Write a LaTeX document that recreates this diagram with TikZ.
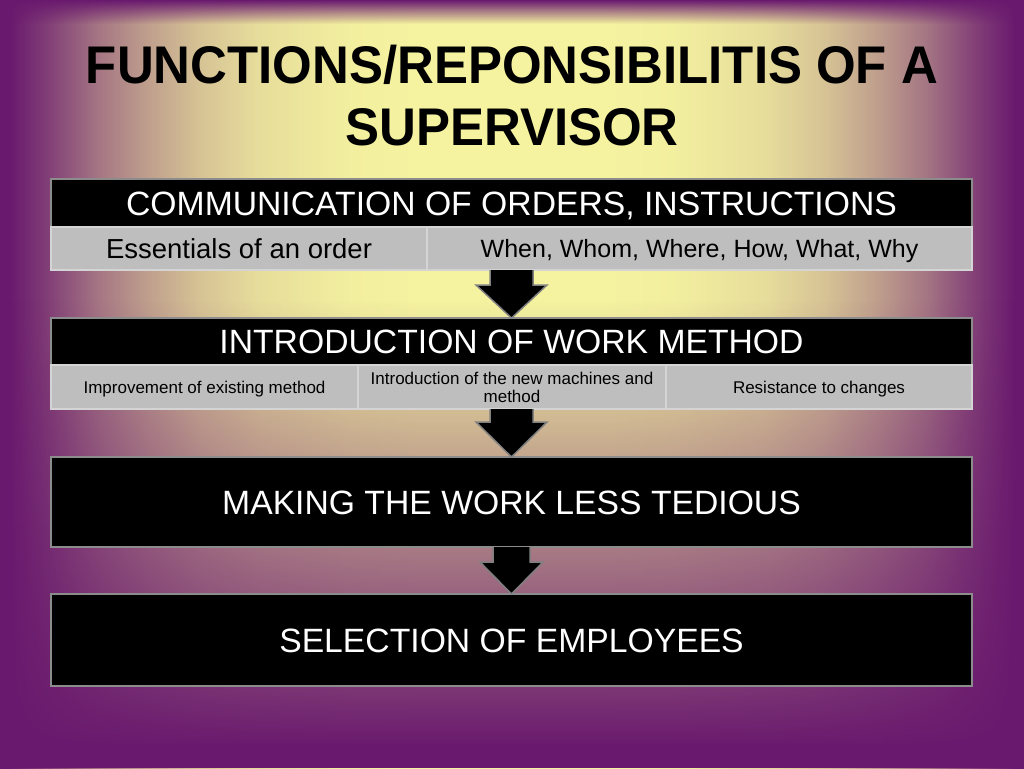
\documentclass[tikz,border=0pt]{standalone}
\usepackage{fontspec}
\setmainfont{Liberation Sans}
\usepackage{graphicx}
\usetikzlibrary{calc,fadings}
\definecolor{purp}{HTML}{6A1A6E}
\definecolor{yel}{HTML}{F5F3A0}
\definecolor{hdrline}{HTML}{8C8C8C}
\definecolor{cellgray}{HTML}{BEBEBE}
\definecolor{cellline}{HTML}{D4D4D4}
\definecolor{arrline}{HTML}{808080}
\colorlet{tA}{yel!13!purp}
\colorlet{tB}{yel!43!purp}
\colorlet{tC}{yel!62!purp}
\colorlet{tD}{yel!78!purp}
\colorlet{tE}{yel!90!purp}
\colorlet{tF}{yel!98!purp}
\pgfdeclarehorizontalshading{bgh}{100bp}{color(0bp)=(purp); color(25bp)=(purp); color(25.49bp)=(purp); color(26.95bp)=(tA); color(29.88bp)=(tB); color(32.32bp)=(tC); color(34.77bp)=(tD); color(37.70bp)=(tE); color(42.09bp)=(tF); color(45.51bp)=(yel); color(54.49bp)=(yel); color(57.91bp)=(tF); color(62.30bp)=(tE); color(65.23bp)=(tD); color(67.68bp)=(tC); color(70.12bp)=(tB); color(73.05bp)=(tA); color(74.51bp)=(purp); color(75bp)=(purp); color(100bp)=(purp)}
\tikzfading[name=fadebot, top color=transparent!100, bottom color=transparent!0]
\tikzfading[name=fadetop, top color=transparent!0, bottom color=transparent!100]
\tikzset{
  hdr/.style={fill=black, draw=hdrline, line width=2pt, text=white,
    font=\fontsize{33.7}{40}\selectfont, text height=24.1pt, text depth=0pt,
    inner sep=0pt, outer sep=0pt, minimum width=921pt},
  cell/.style={fill=cellgray, draw=cellline, line width=1.5pt, text=black,
    inner sep=0pt, outer sep=0pt},
  blockarrow/.style={fill=black, draw=arrline, line width=1.5pt, line join=miter},
  titletext/.style={anchor=base, inner sep=0pt, text=black,
    font=\fontsize{53}{53}\selectfont\bfseries}
}
\begin{document}
\begin{tikzpicture}[x=1pt,y=-1pt]
\useasboundingbox (0,0) rectangle (1024,768);
% background
\shade[shading=bgh] (0,0) rectangle (1024,768);
\fill[purp, path fading=fadebot] (0,300) rectangle (1024,746);
\fill[purp] (0,745) rectangle (1024,768);
\fill[purp, path fading=fadetop] (0,0) rectangle (1024,24);
% title
\node[titletext] (t1) at (512,83) {\resizebox{852pt}{\height}{FUNCTIONS/REPONSIBILITIS OF A}};
\node[titletext] (t2) at (512,145) {\scalebox{0.962}[1]{SUPERVISOR}};
% block 1
\node[hdr, minimum height=48pt] (h1) at (511.5,203) {COMMUNICATION OF ORDERS, INSTRUCTIONS};
\node[cell, minimum width=376pt, minimum height=43pt, font=\fontsize{27.5}{33}\selectfont,
  text height=19.7pt, text depth=0pt] (r1a) at (239,248.5) {Essentials of an order};
\node[cell, minimum width=545pt, minimum height=43pt, font=\fontsize{25}{30}\selectfont,
  text height=17.9pt, text depth=0pt] (r1b) at (699.5,248.5) {When, Whom, Where, How, What, Why};
% block 2
\node[hdr, minimum height=47pt] (h2) at (511.5,341.5) {INTRODUCTION OF WORK METHOD};
\node[cell, minimum width=307pt, minimum height=44pt, font=\fontsize{17}{20}\selectfont,
  text height=12.2pt, text depth=0pt] (r2a) at (204.5,387) {Improvement of existing method};
\node[cell, minimum width=308pt, minimum height=44pt, font=\fontsize{17}{18}\selectfont,
  align=center] (r2b) at (512,387) {Introduction of the new machines and\\method};
\node[cell, minimum width=306pt, minimum height=44pt, font=\fontsize{17}{20}\selectfont,
  text height=12.2pt, text depth=0pt] (r2c) at (819,387) {Resistance to changes};
% block 3 and 4
\node[hdr, minimum height=90pt] (h3) at (511.5,502) {MAKING THE WORK LESS TEDIOUS};
\node[hdr, minimum height=92pt] (h4) at (511.5,640) {SELECTION OF EMPLOYEES};
% arrows
\coordinate (s1) at (h1.center |- r1b.south);
\coordinate (s2) at (h1.center |- r2b.south);
\coordinate (s3) at (h3.south);
\draw[blockarrow] ($(s1)+(-21.5,0)$) -- ($(s1)+(-21.5,15)$) -- ($(s1)+(-35.5,15)$) -- (h2.north)
  -- ($(s1)+(35.5,15)$) -- ($(s1)+(21.5,15)$) -- ($(s1)+(21.5,0)$);
\draw[blockarrow] ($(s2)+(-21.5,0)$) -- ($(s2)+(-21.5,13)$) -- ($(s2)+(-35.5,13)$) -- (h3.north)
  -- ($(s2)+(35.5,13)$) -- ($(s2)+(21.5,13)$) -- ($(s2)+(21.5,0)$);
\draw[blockarrow] ($(s3)+(-18.5,0)$) -- ($(s3)+(-18.5,15)$) -- ($(s3)+(-31.5,15)$) -- (h4.north)
  -- ($(s3)+(31.5,15)$) -- ($(s3)+(18.5,15)$) -- ($(s3)+(18.5,0)$);
\end{tikzpicture}
\end{document}
